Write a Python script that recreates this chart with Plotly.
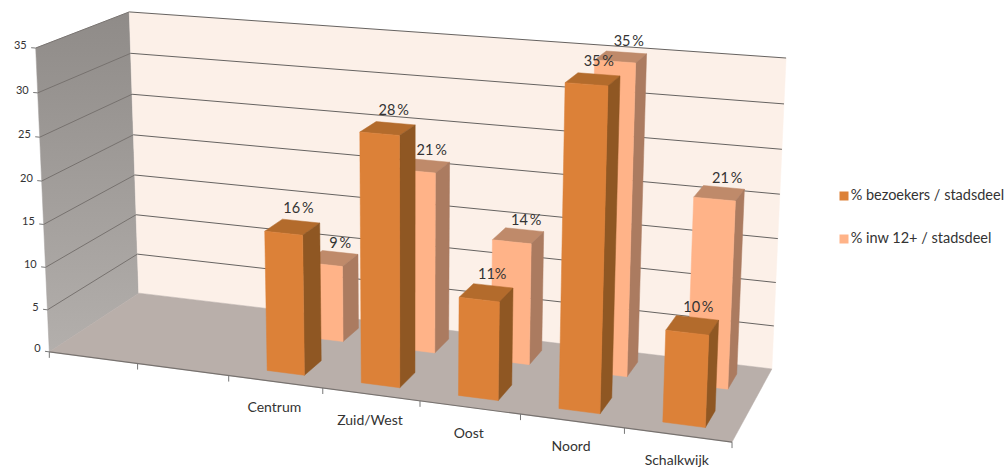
import numpy as np
import plotly.graph_objects as go

categories = ["", "", "Centrum", "Zuid/West", "Oost", "Noord", "Schalkwijk"]
bezoekers = [None, None, 16, 28, 11, 35, 10]
inwoners = [None, None, 9, 21, 14, 35, 21]
bezoekers_labels = ["", "", "16\u2009%", "28\u2009%", "11%", "35\u2009%", "10\u2009%"]
inwoners_labels = ["", "", "9\u2009%", "21\u2009%", "14\u2009%", "35\u2009%", "21\u2009%"]
series_names = ["% bezoekers / stadsdeel", "% inw 12+ / stadsdeel"]
z_ticks = [0, 5, 10, 15, 20, 25, 30, 35]

# plotly's 3d camera has a fixed 45 degree lens, the original is a long lens excel view,
# so the perspective is done here and the faces go on a plain pixel axis
X0, X1, Y0, Y1, Z1 = -0.5, 6.5, 0.0, 1.0, 35.0
scene_pts = [(X0, Y0, 0), (X1, Y0, 0), (X1, Y1, 0), (X0, Y1, 0), (X0, Y1, Z1), (X1, Y1, Z1), (X0, Y0, Z1)]
pixel_pts = [(50, 352), (732, 442), (772, 369), (138, 293), (130, 12), (786, 58), (35, 48)]

A, b = [], []
for (x, y, z), (u, v) in zip(scene_pts, pixel_pts):
    A.append([x, y, z, 1, 0, 0, 0, 0, -u * x, -u * y, -u * z])
    A.append([0, 0, 0, 0, x, y, z, 1, -v * x, -v * y, -v * z])
    b += [u, v]
cam = np.append(np.linalg.lstsq(np.array(A, float), np.array(b, float), rcond=None)[0], 1.0).reshape(3, 4)


def proj(x, y, z):
    p = cam @ np.array([x, y, z, 1.0])
    return p[0] / p[2], p[1] / p[2]


fig = go.Figure()


def face(pts, color, **kw):
    xy = [proj(*p) for p in pts + pts[:1]]
    fig.add_trace(go.Scatter(x=[q[0] for q in xy], y=[q[1] for q in xy], mode="lines", fill="toself",
                             fillcolor=color, line=dict(color=color, width=0.5), hoverinfo="skip",
                             showlegend=False, **kw))


def segments(pairs, color, width):
    xs, ys = [], []
    for a, c in pairs:
        pa, pc = proj(*a), proj(*c)
        xs += [pa[0], pc[0], None]
        ys += [pa[1], pc[1], None]
    fig.add_trace(go.Scatter(x=xs, y=ys, mode="lines", line=dict(color=color, width=width),
                             hoverinfo="skip", showlegend=False))


def bars(values, y0, y1, colors):
    for i, v in enumerate(values):
        if v is None:
            continue
        x0, x1 = i - 0.2, i + 0.2
        face([(x0, y0, v), (x1, y0, v), (x1, y1, v), (x0, y1, v)], colors[2])
        face([(x1, y0, 0), (x1, y1, 0), (x1, y1, v), (x1, y0, v)], colors[1])
        face([(x0, y0, 0), (x1, y0, 0), (x1, y0, v), (x0, y0, v)], colors[0])


# walls and floor
face([(X0, Y0, 0), (X0, Y1, 0), (X0, Y1, Z1), (X0, Y0, Z1)], "#A5A19E",
     fillgradient=dict(type="vertical", colorscale=[[0, "#B3AFAC"], [1, "#8F8B88"]]))
face([(X0, Y1, 0), (X1, Y1, 0), (X1, Y1, Z1), (X0, Y1, Z1)], "#FCF0E8")
face([(X0, Y0, 0), (X1, Y0, 0), (X1, Y1, 0), (X0, Y1, 0)], "#B9AFAA")

segments([((X0, Y0, z), (X0, Y1, z)) for z in z_ticks[1:]], "#77726F", 1)
segments([((X0, Y1, z), (X1, Y1, z)) for z in z_ticks[1:]], "#666361", 1)
segments([((X0, Y0, 0), (X1, Y0, 0))], "#77726F", 1.2)

edges = [X0 + n for n in range(8)]
front_ticks = [proj(e, Y0, 0) for e in edges]
fig.add_trace(go.Scatter(x=[c for u, v in front_ticks for c in (u, u, None)],
                         y=[c for u, v in front_ticks for c in (v, v + 6, None)],
                         mode="lines", line=dict(color="#777777", width=1), hoverinfo="skip", showlegend=False))

# back row first, the front row covers it
bars(inwoners, 0.65, 0.87, ["#FFB388", "#AB7B60", "#BF8A6A"])
bars(bezoekers, 0.13, 0.35, ["#DC8138", "#8F5723", "#B36B2C"])


def value_labels(values, labels, y, dx, dy):
    pts = [proj(i, y, v) for i, v in enumerate(values) if v is not None]
    txt = [t for t in labels if t]
    fig.add_trace(go.Scatter(x=[p[0] + dx for p in pts], y=[p[1] + dy for p in pts], mode="text", text=txt,
                             textposition="top center", textfont=dict(size=14.5, color="#333333"),
                             cliponaxis=False, hoverinfo="skip", showlegend=False))


value_labels(inwoners, inwoners_labels, 0.76, 8, -7)
value_labels(bezoekers, bezoekers_labels, 0.24, 6, -10)

# category labels under the front edge
cat_pts = [proj(i, Y0, 0) for i in range(len(categories))]
fig.add_trace(go.Scatter(x=[p[0] - 1 for p in cat_pts], y=[p[1] + 27 for p in cat_pts], mode="text", text=categories,
                         textfont=dict(size=14, color="#333333"), cliponaxis=False,
                         hoverinfo="skip", showlegend=False))

# z axis ticks
segments([((X0 - 0.05, Y0, z), (X0, Y0, z)) for z in z_ticks], "#777777", 1)
tick_pts = [proj(X0 - 0.1, Y0, z) for z in z_ticks]
fig.add_trace(go.Scatter(x=[p[0] for p in tick_pts], y=[p[1] - 1 for p in tick_pts], mode="text",
                         text=[str(z) for z in z_ticks], textposition="middle left",
                         textfont=dict(size=11, color="#333333"), cliponaxis=False,
                         hoverinfo="skip", showlegend=False))

# legend
for name, col, ly in zip(series_names, ["#DC8138", "#FFB388"], [196, 239]):
    fig.add_trace(go.Scatter(x=[844], y=[ly], mode="markers+text", text=[name], textposition="middle right",
                             marker=dict(symbol="square", size=9, color=col), name=name,
                             textfont=dict(size=14.5, color="#333333"), cliponaxis=False,
                             hoverinfo="skip", showlegend=False))

fig.update_layout(
    width=1007, height=468, margin=dict(l=0, r=0, t=0, b=0),
    paper_bgcolor="white", plot_bgcolor="white",
    font=dict(family="Lato", color="#333333"),
    xaxis=dict(range=[0, 1007], visible=False, fixedrange=True),
    yaxis=dict(range=[468, 0], visible=False, fixedrange=True),
)
fig.write_html("out.html", config={"displayModeBar": False}, post_script="document.body.style.margin = '0';")
